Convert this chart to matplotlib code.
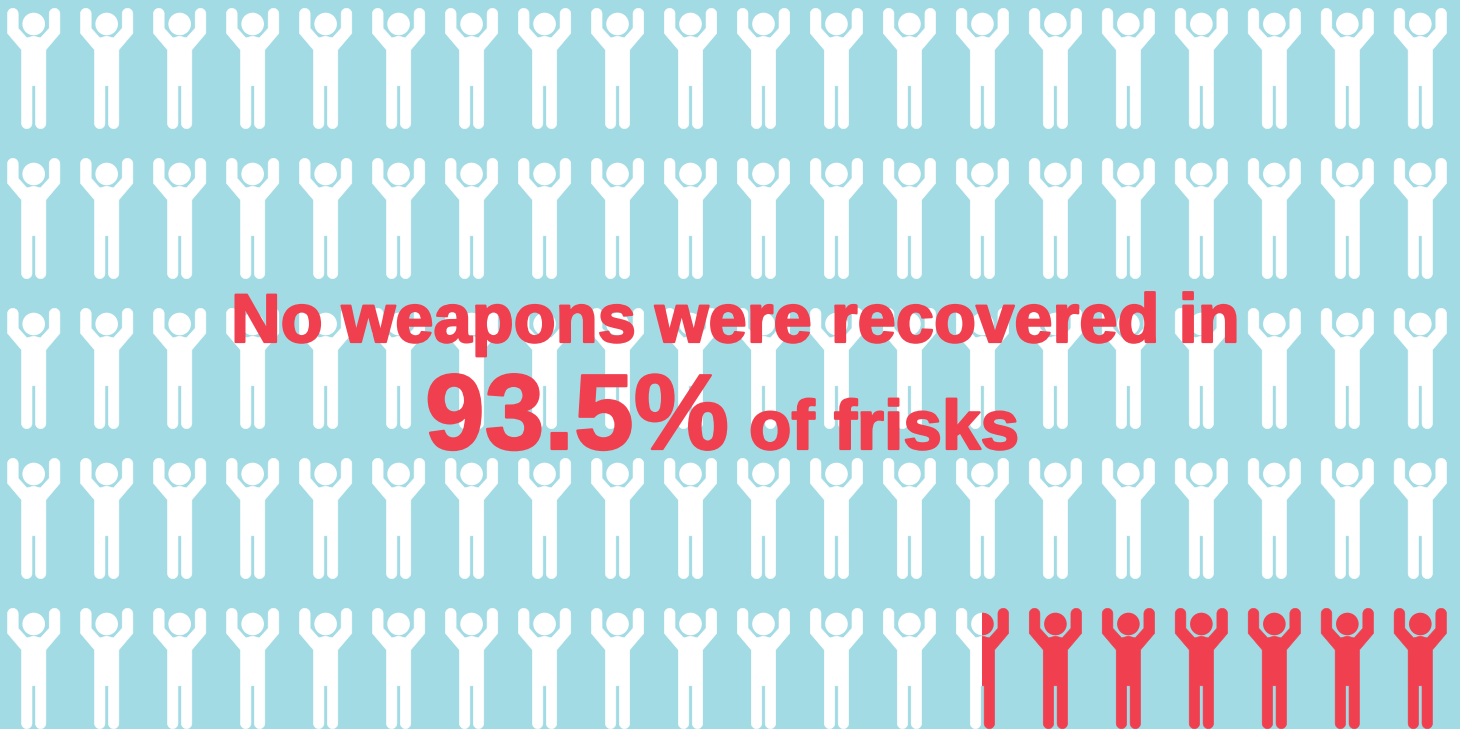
# coding: UTF-8
import matplotlib
matplotlib.use('Agg')
import matplotlib.pyplot as plt
import matplotlib.patheffects as pe
from matplotlib.path import Path
from matplotlib.patches import PathPatch, Rectangle

ROWS = 5
COLS = 20
no_weapon_pct = 93.5
line1 = 'No weapons were recovered in'
big_num = '93.5%'
line2 = 'of frisks'

BG = '#A3DBE4'
RED = '#F0404F'
WHITE = '#FFFFFF'

K = 0.55 * 5.35  # handle length for the round ends
# half outline of the figure, x from centre, y down from top of the icon
half = [
    (Path.LINETO, (-6.8, 29.6)),
    (Path.LINETO, (-15.5, 20.0)),
    (Path.LINETO, (-15.5, 5.35)),
    (Path.CURVE4, (-15.5, 5.35 - K)), (Path.CURVE4, (-20.85 + K, 0.0)), (Path.CURVE4, (-20.85, 0.0)),
    (Path.CURVE4, (-20.85 - K, 0.0)), (Path.CURVE4, (-26.2, 5.35 - K)), (Path.CURVE4, (-26.2, 5.35)),
    (Path.LINETO, (-26.2, 25.0)),
    (Path.LINETO, (-12.2, 41.5)),
    (Path.LINETO, (-12.2, 115.0)),
    (Path.CURVE4, (-12.2, 115.0 + K)), (Path.CURVE4, (-6.95 - K, 120.4)), (Path.CURVE4, (-6.95, 120.4)),
    (Path.CURVE4, (-6.95 + K, 120.4)), (Path.CURVE4, (-1.7, 115.0 + K)), (Path.CURVE4, (-1.7, 115.0)),
    (Path.LINETO, (-1.7, 77.5)),
]


def person(cx, top):
    verts = [(cx, top + 27.8)]
    codes = [Path.MOVETO]
    for c, (x, y) in half:
        verts.append((cx + x, top + y))
        codes.append(c)
    for c, (x, y) in reversed(half):
        verts.append((cx - x, top + y))
    # walk back up the other side, each point takes the code of the one after it
    codes += [Path.LINETO] + [c for c, _ in reversed(half[1:])]
    verts.append((cx, top + 27.8))
    codes.append(Path.LINETO)
    return Path(verts, codes)


fig = plt.figure(figsize=(14.6, 7.29), dpi=100, facecolor=BG)
ax = fig.add_axes([0, 0, 1, 1])
ax.set_xlim(0, 1460)
ax.set_ylim(729, 0)
ax.axis('off')

x0 = 33.7
dx = 72.98
y0 = 8.3
dy = 150.0
w = 54.0

n = 0
for r in range(ROWS):
    for c in range(COLS):
        cx = x0 + c * dx
        top = y0 + r * dy
        path = person(cx, top)
        split = min(1.0, max(0.0, no_weapon_pct - n))
        for col, left, right in [(WHITE, 0.0, split), (RED, split, 1.0)]:
            if right <= left:
                continue
            clip = Rectangle((cx - w / 2 + left * w, top - 2), (right - left) * w, 126,
                             transform=ax.transData)
            body = PathPatch(path, fc=col, ec=col, lw=0.4)
            ax.add_patch(body)
            body.set_clip_path(clip)
            h = plt.Circle((cx, top + 15.7), 11.3, fc=col, ec='none', lw=0)
            ax.add_patch(h)
            h.set_clip_path(clip)
        n += 1

font = 'Liberation Sans'
heavy = [pe.withStroke(linewidth=1.6, foreground=RED)]
ax.text(231, 342, line1, color=RED, fontsize=49.5, fontweight='bold', family=font,
        ha='left', va='baseline', zorder=5, path_effects=heavy)
ax.text(425, 449, big_num, color=RED, fontsize=77.2, fontweight='bold', family=font,
        ha='left', va='baseline', zorder=5, path_effects=heavy)
ax.text(749, 449, line2, color=RED, fontsize=50, fontweight='bold', family=font,
        ha='left', va='baseline', zorder=5, path_effects=heavy)

fig.savefig('out.png', dpi=100, facecolor=BG)
